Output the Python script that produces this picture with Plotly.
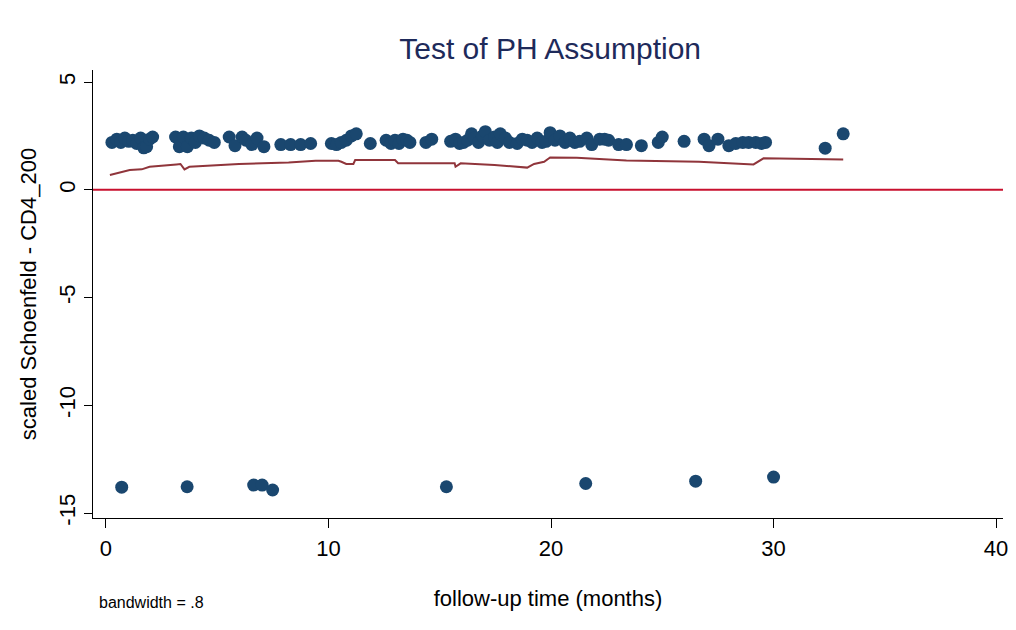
import plotly.graph_objects as go

# Scaled Schoenfeld residuals (upper cluster)
res_x = [0.27, 0.49, 0.67, 0.85, 1.03, 1.21, 1.38, 1.56, 1.70, 1.83, 1.96, 2.10,
         3.13, 3.30, 3.48, 3.66, 3.84, 4.02, 4.20, 4.42, 4.64, 4.87,
         5.54, 5.80, 6.12, 6.29, 6.56, 6.79, 7.10,
         7.86, 8.30, 8.75, 9.20,
         10.13, 10.36, 10.58, 10.80, 11.03, 11.25, 11.88,
         12.59, 12.81, 12.99, 13.17, 13.35, 13.53, 13.66, 14.38, 14.64,
         15.49, 15.71, 15.89, 16.07, 16.25, 16.43, 16.56, 16.74, 16.92, 17.05,
         17.23, 17.46, 17.59, 17.72, 17.95, 18.13,
         18.48, 18.71, 18.93, 19.15, 19.38, 19.60, 19.78, 19.96, 20.18, 20.40,
         20.63, 20.85, 21.07,
         21.29, 21.61, 21.83, 22.19, 22.41, 22.59, 23.04, 23.39, 24.06,
         24.82, 25.00, 25.98, 26.88, 27.10, 27.50,
         27.99, 28.30, 28.62, 28.88, 29.20, 29.46, 29.64, 32.32, 33.13]
res_y = [2.20, 2.35, 2.20, 2.40, 2.25, 2.30, 2.15, 2.40, 1.95, 2.00, 2.35, 2.45,
         2.45, 2.00, 2.45, 2.00, 2.40, 2.20, 2.50, 2.40, 2.30, 2.20,
         2.45, 2.05, 2.45, 2.30, 2.10, 2.40, 2.00,
         2.10, 2.10, 2.10, 2.15,
         2.15, 2.10, 2.20, 2.30, 2.50, 2.60, 2.15,
         2.30, 2.15, 2.30, 2.15, 2.35, 2.30, 2.20, 2.20, 2.35,
         2.25, 2.35, 2.15, 2.20, 2.30, 2.60, 2.40, 2.20, 2.50, 2.70,
         2.30, 2.45, 2.20, 2.60, 2.40, 2.20,
         2.15, 2.35, 2.30, 2.20, 2.40, 2.20, 2.25, 2.65, 2.30, 2.50,
         2.20, 2.40, 2.20,
         2.25, 2.40, 2.10, 2.35, 2.35, 2.30, 2.10, 2.10, 2.05,
         2.20, 2.45, 2.25, 2.35, 2.05, 2.35,
         2.05, 2.15, 2.20, 2.20, 2.20, 2.15, 2.20, 1.93, 2.60]

# Lower cluster
low_x = [0.71, 3.65, 6.64, 7.02, 7.49, 15.30, 21.56, 26.50, 30.00]
low_y = [-13.80, -13.78, -13.70, -13.70, -13.93, -13.78, -13.63, -13.52, -13.33]

# Lowess smooth (bandwidth .8)
sm_x = [0.18, 0.63, 1.07, 1.61, 1.96, 3.17, 3.35, 3.53, 3.75, 5.98, 8.21, 9.42,
        10.45, 10.58, 10.80, 11.12, 11.20, 12.99, 13.13, 15.67, 15.71, 15.94,
        17.46, 18.93, 19.24, 19.69, 19.96, 21.16, 22.50, 23.39, 26.65, 29.10,
        29.55, 33.13]
sm_y = [0.69, 0.80, 0.92, 0.95, 1.07, 1.18, 1.20, 0.95, 1.07, 1.20, 1.27, 1.35,
        1.35, 1.30, 1.20, 1.20, 1.38, 1.38, 1.23, 1.23, 1.07, 1.23,
        1.15, 1.03, 1.20, 1.30, 1.50, 1.49, 1.43, 1.36, 1.30, 1.18,
        1.46, 1.41]

y_ticks = [-15, -10, -5, 0, 5]
y_tick_text = ["-15", "-10", "-5", "0", "5"]
x_ticks = [0, 10, 20, 30, 40]

navy = "#1a476f"
maroon = "#90353b"
font = "Liberation Sans, Arial, sans-serif"

fig = go.Figure()
fig.add_trace(go.Scatter(x=res_x + low_x, y=res_y + low_y, mode="markers",
                         marker=dict(size=13, color=navy, line=dict(width=0)),
                         showlegend=False))
fig.add_trace(go.Scatter(x=sm_x, y=sm_y, mode="lines",
                         line=dict(color=maroon, width=2), showlegend=False))
fig.add_hline(y=0, line=dict(color="#c8102e", width=2))

fig.update_layout(
    width=1016, height=630,
    margin=dict(l=93, r=8, t=70, b=112),
    paper_bgcolor="white", plot_bgcolor="white",
    font=dict(family=font, color="black", size=22),
    title=dict(text="Test of PH Assumption", x=0.5415, xanchor="center",
               y=1 - 48 / 630, yanchor="middle",
               font=dict(size=30, color="#1e2a5a")),
    xaxis=dict(range=[-0.58, 40.31], tickvals=x_ticks, showgrid=False,
               zeroline=False, showline=True, linecolor="black", linewidth=1,
               ticks="outside", ticklen=9, tickcolor="black",
               tickfont=dict(size=22), ticklabelstandoff=2,
               title=dict(text="follow-up time (months)", font=dict(size=22),
                          standoff=30)),
    yaxis=dict(range=[-15.23, 5.56], tickvals=y_ticks, ticktext=y_tick_text,
               tickangle=-90, showgrid=False, zeroline=False, showline=True,
               linecolor="black", linewidth=1, ticks="outside", ticklen=8,
               tickcolor="black", tickfont=dict(size=22),
               title=dict(text="scaled Schoenfeld - CD4_200",
                          font=dict(size=22), standoff=12)),
)
fig.add_annotation(text="bandwidth = .8", xref="paper", yref="paper",
                   x=(97 - 93) / (1016 - 93 - 8), y=-(602 - 518) / (518 - 70),
                   xanchor="left", yanchor="middle", showarrow=False,
                   font=dict(size=16, color="black", family=font))

fig.write_html("out.html")
